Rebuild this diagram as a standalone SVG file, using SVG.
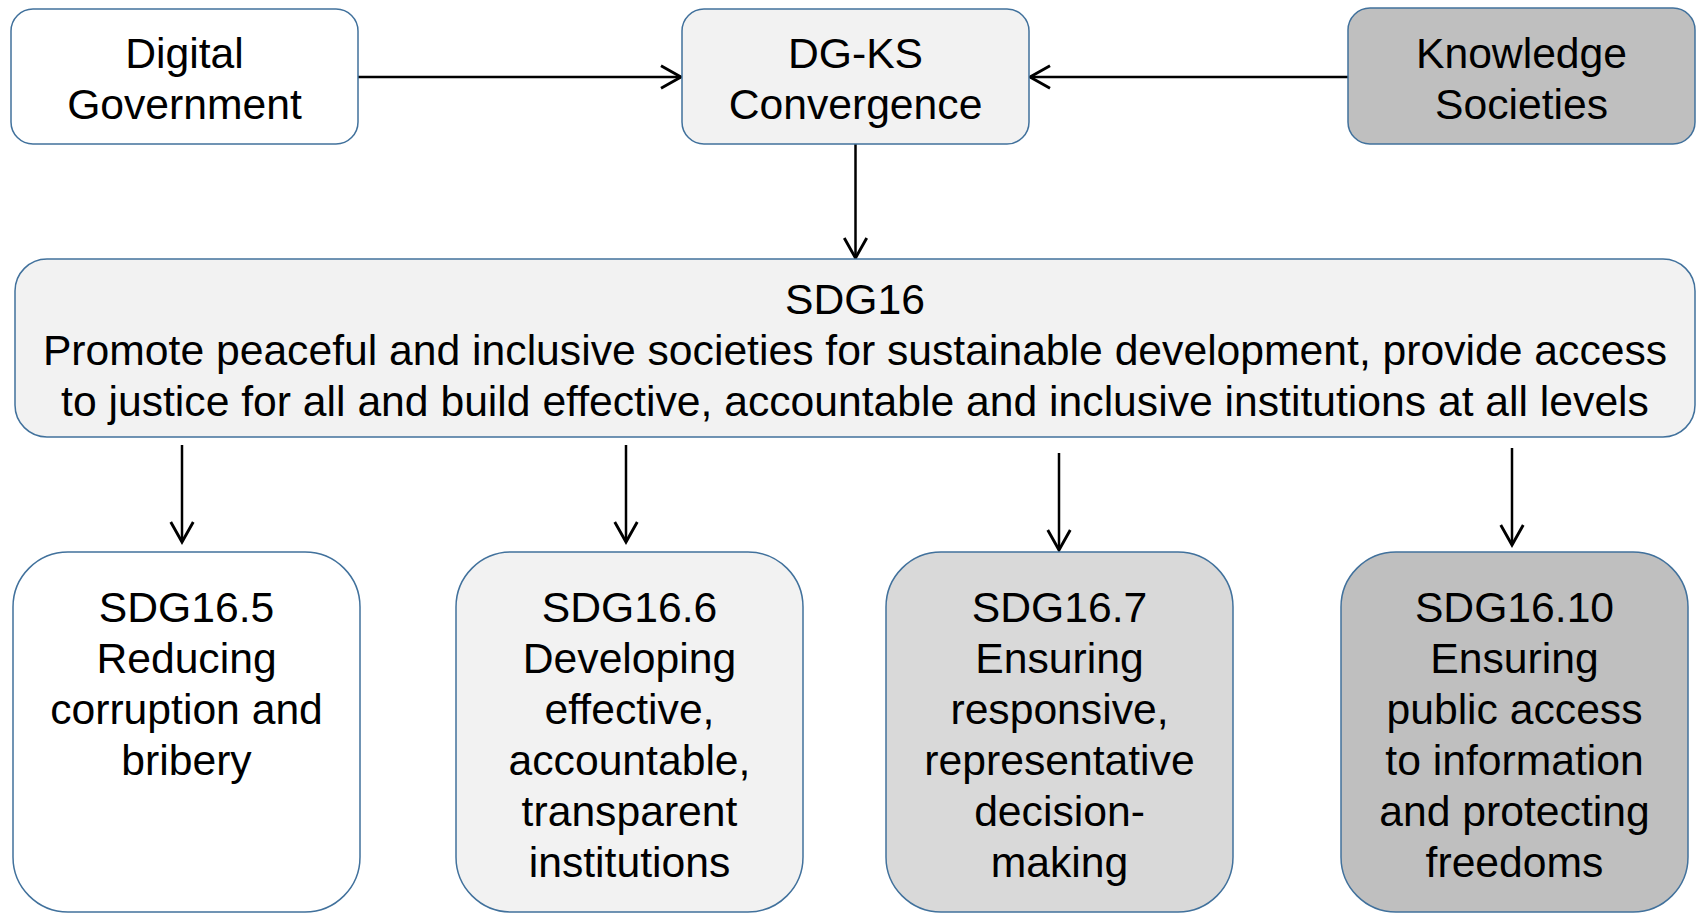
<svg xmlns="http://www.w3.org/2000/svg" width="1698" height="913" viewBox="0 0 1698 913">
<style>
.box{stroke:#41719c;stroke-width:1.5}
.t{font-family:"Liberation Sans",Arial,sans-serif;font-size:42.67px;fill:#000;text-anchor:middle}
.c{stroke:#000;stroke-width:2.5;fill:none;marker-end:url(#ah)}
</style>
<defs>
<marker id="ah" markerUnits="userSpaceOnUse" markerWidth="30" markerHeight="30" viewBox="-20 -12 24 24" refX="0" refY="0" orient="auto" overflow="visible">
<path d="M-16,-9 L0,0 L-16,9" fill="none" stroke="#000" stroke-width="2.3"/>
</marker>
</defs>
<rect width="1698" height="913" fill="#fff"/>
<g id="connectors">
<line class="c" x1="358" y1="77" x2="681" y2="77"/>
<line class="c" x1="1348" y1="77" x2="1030" y2="77"/>
<line class="c" x1="855.5" y1="144" x2="855.5" y2="258"/>
<line class="c" x1="182" y1="445" x2="182" y2="542"/>
<line class="c" x1="626" y1="445" x2="626" y2="542"/>
<line class="c" x1="1059" y1="453" x2="1059" y2="550"/>
<line class="c" x1="1512" y1="448" x2="1512" y2="545"/>
</g>
<g id="digital-government">
<rect class="box" x="11" y="9" width="347" height="135" rx="22" fill="#ffffff"/>
<text class="t" x="184.5" y="68">Digital</text>
<text class="t" x="184.5" y="119">Government</text>
</g>
<g id="dg-ks-convergence">
<rect class="box" x="682" y="9" width="347" height="135" rx="22" fill="#f2f2f2"/>
<text class="t" x="855.5" y="68">DG-KS</text>
<text class="t" x="855.5" y="119">Convergence</text>
</g>
<g id="knowledge-societies">
<rect class="box" x="1348" y="8" width="347" height="136" rx="22" fill="#bfbfbf"/>
<text class="t" x="1521.5" y="68">Knowledge</text>
<text class="t" x="1521.5" y="119">Societies</text>
</g>
<g id="sdg16">
<rect class="box" x="15" y="259" width="1680" height="178" rx="32" fill="#f2f2f2"/>
<text class="t" x="855" y="314">SDG16</text>
<text class="t" x="855" y="365">Promote peaceful and inclusive societies for sustainable development, provide access</text>
<text class="t" x="855" y="416">to justice for all and build effective, accountable and inclusive institutions at all levels</text>
</g>
<g id="sdg16-5">
<rect class="box" x="13" y="552" width="347" height="360" rx="55" fill="#ffffff"/>
<text class="t" x="186.5" y="622">SDG16.5</text>
<text class="t" x="186.5" y="673">Reducing</text>
<text class="t" x="186.5" y="724">corruption and</text>
<text class="t" x="186.5" y="775">bribery</text>
</g>
<g id="sdg16-6">
<rect class="box" x="456" y="552" width="347" height="360" rx="55" fill="#f2f2f2"/>
<text class="t" x="629.5" y="622">SDG16.6</text>
<text class="t" x="629.5" y="673">Developing</text>
<text class="t" x="629.5" y="724">effective,</text>
<text class="t" x="629.5" y="775">accountable,</text>
<text class="t" x="629.5" y="826">transparent</text>
<text class="t" x="629.5" y="877">institutions</text>
</g>
<g id="sdg16-7">
<rect class="box" x="886" y="552" width="347" height="360" rx="55" fill="#d9d9d9"/>
<text class="t" x="1059.5" y="622">SDG16.7</text>
<text class="t" x="1059.5" y="673">Ensuring</text>
<text class="t" x="1059.5" y="724">responsive,</text>
<text class="t" x="1059.5" y="775">representative</text>
<text class="t" x="1059.5" y="826">decision-</text>
<text class="t" x="1059.5" y="877">making</text>
</g>
<g id="sdg16-10">
<rect class="box" x="1341" y="552" width="347" height="360" rx="55" fill="#bfbfbf"/>
<text class="t" x="1514.5" y="622">SDG16.10</text>
<text class="t" x="1514.5" y="673">Ensuring</text>
<text class="t" x="1514.5" y="724">public access</text>
<text class="t" x="1514.5" y="775">to information</text>
<text class="t" x="1514.5" y="826">and protecting</text>
<text class="t" x="1514.5" y="877">freedoms</text>
</g>
</svg>
